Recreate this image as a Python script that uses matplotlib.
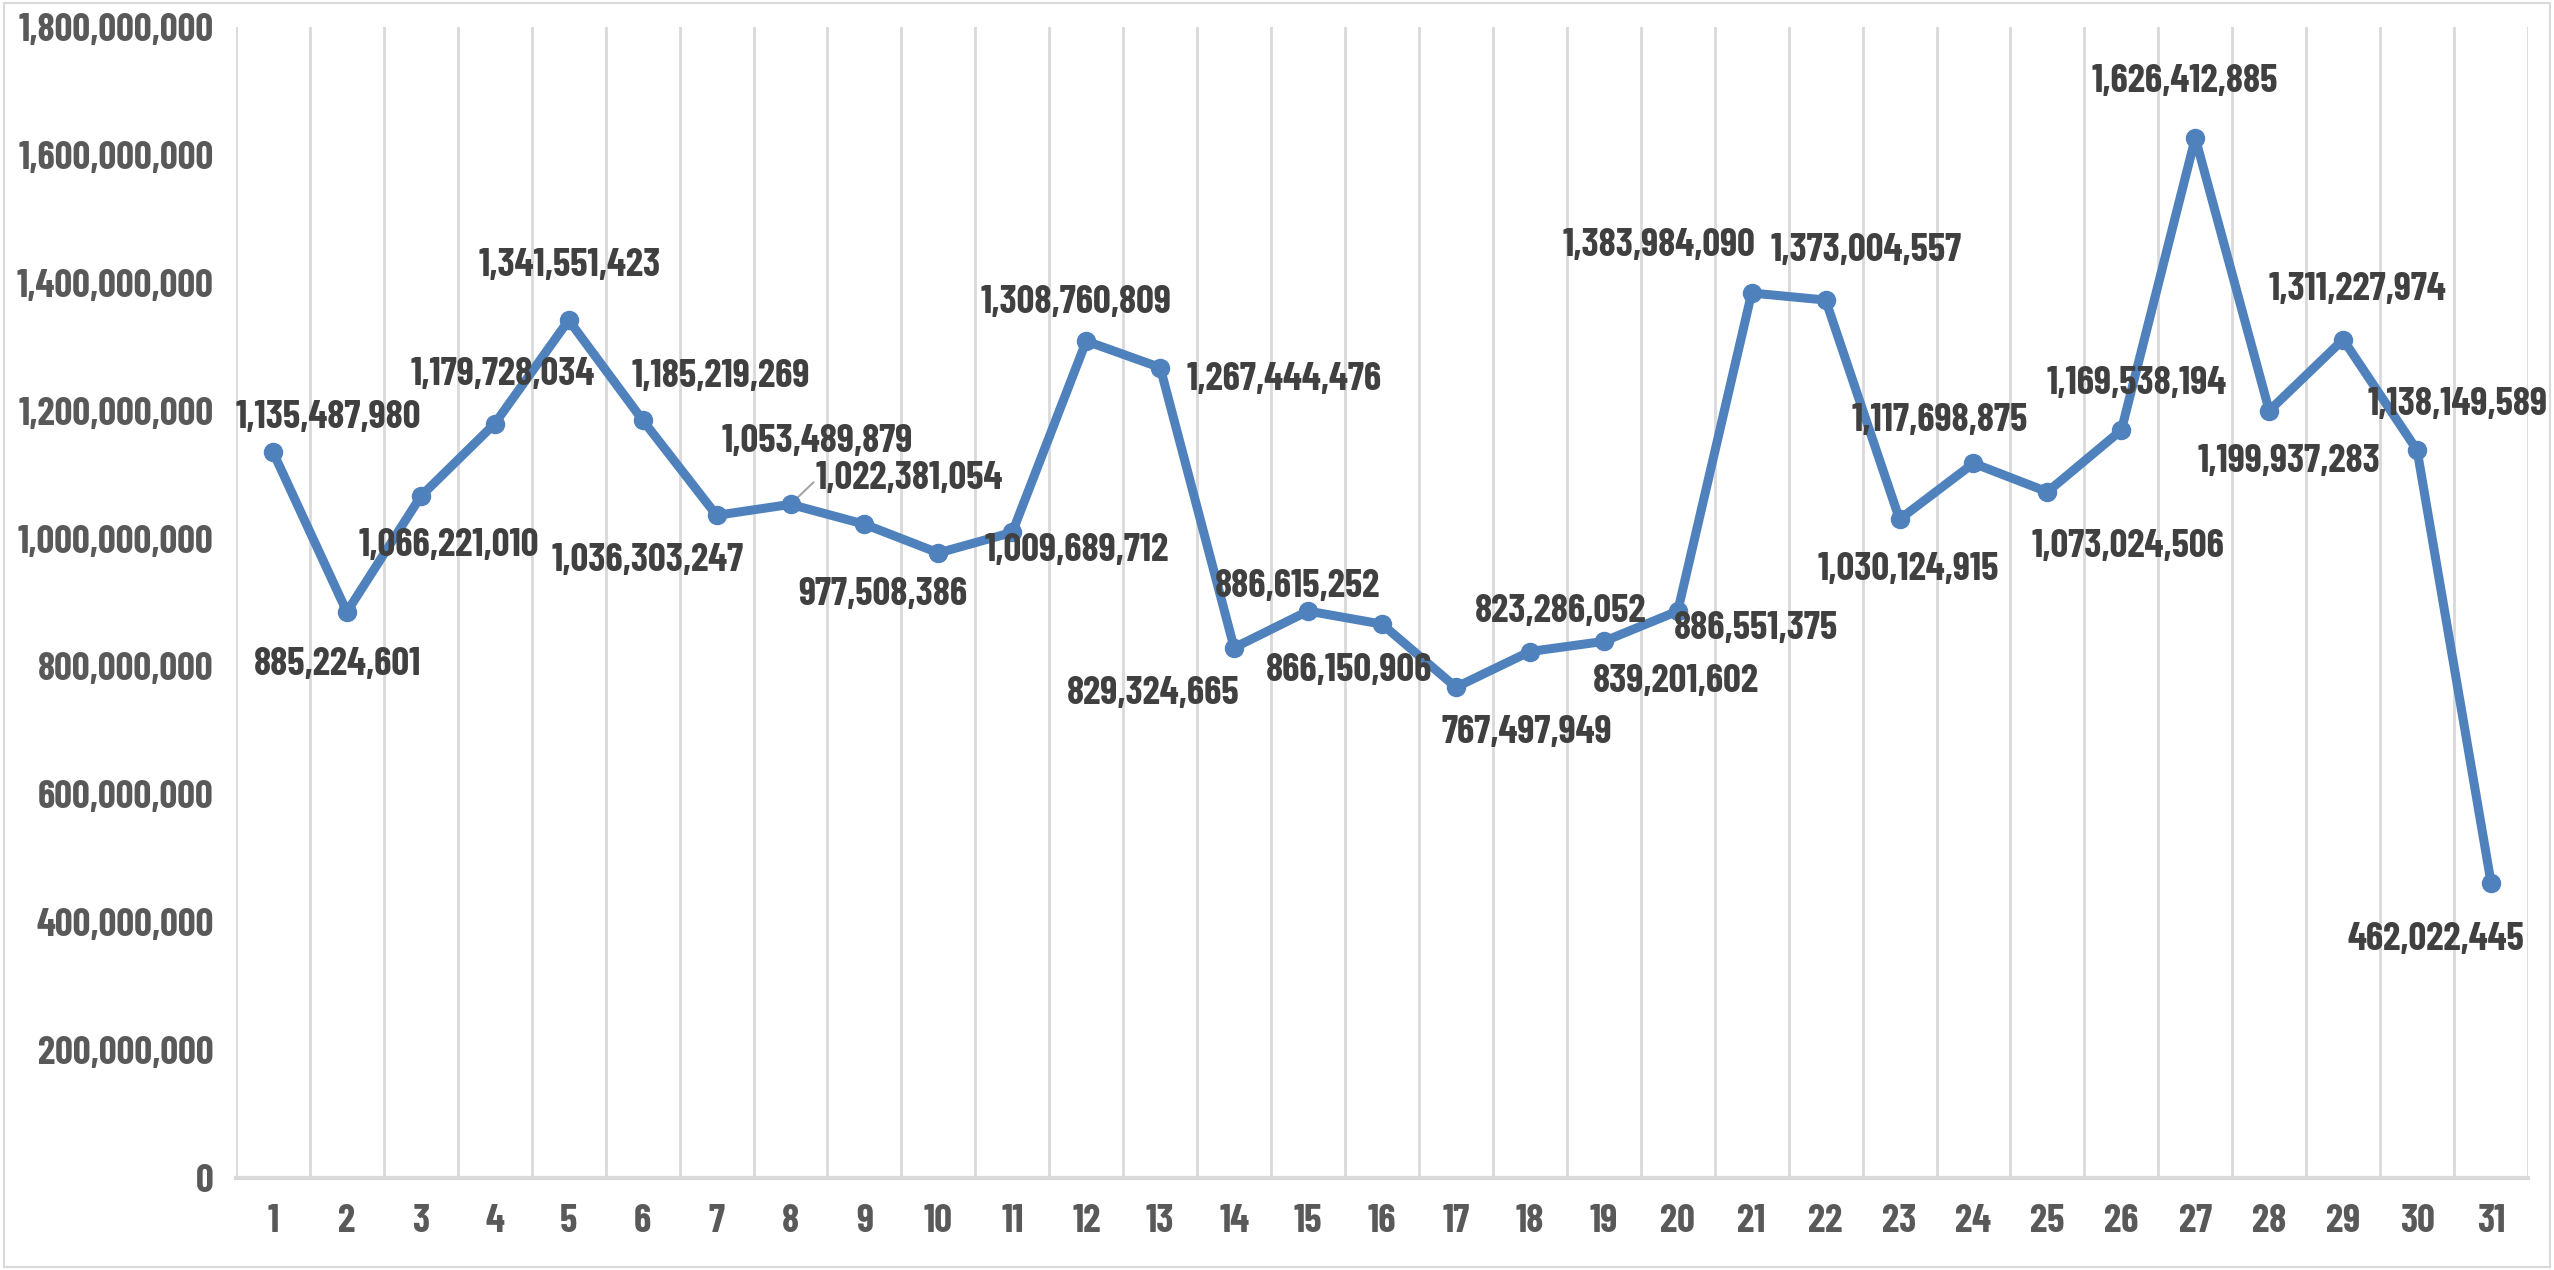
import matplotlib
matplotlib.use("Agg")
import matplotlib.pyplot as plt
from matplotlib import font_manager as fm
from matplotlib.ticker import FuncFormatter, MultipleLocator
from matplotlib.patches import Rectangle

days = list(range(1, 32))
values = [1135487980, 885224601, 1066221010, 1179728034, 1341551423, 1185219269,
          1036303247, 1053489879, 1022381054, 977508386, 1009689712, 1308760809,
          1267444476, 829324665, 886615252, 866150906, 767497949, 823286052,
          839201602, 886551375, 1383984090, 1373004557, 1030124915, 1117698875,
          1073024506, 1169538194, 1626412885, 1199937283, 1311227974, 1138149589,
          462022445]

# label offsets in pixels (dx, dy), roughly where excel put them
label_offsets = [(55, 34), (-9, -53), (28, -49), (8, 49), (1, 55), (78, 44),
                 (-69, -45), (27, 63), (45, 46), (-56, -42), (64, -18), (-10, 39),
                 (124, -12), (-81, -46), (-11, 25), (-33, -46), (71, -45), (31, 40),
                 (72, -40), (78, -17), (-93, 48), (41, 50), (9, -50), (-34, 43),
                 (81, -55), (15, 47), (-11, 56), (20, -51), (14, 50), (40, 46),
                 (-55, -57)]

# pick a narrow bold font, calibri-ish
installed = set(f.name for f in fm.fontManager.ttflist)
font_name = 'DejaVu Sans'
for cand in ['Barlow Condensed', 'Liberation Sans Narrow', 'Saira Condensed',
             'Barlow Semi Condensed', 'Cabin Condensed']:
    if cand in installed:
        font_name = cand
        break
plt.rcParams['font.family'] = [font_name, 'DejaVu Sans']
plt.rcParams['font.weight'] = 'bold'

line_col = '#4F81BD'
grid_col = '#D9D9D9'

fig = plt.figure(figsize=(25.54, 12.70), dpi=100)

# size the font so "1,800,000,000" is about as wide as in the reference
probe = fig.text(0, 0, "1,800,000,000", fontsize=20, fontweight='bold')
w = probe.get_window_extent(renderer=fig.canvas.get_renderer()).width
probe.remove()
fsize = min(20 * 196 / w, 32)

ax = fig.add_axes([236/2554, 92/1270, (2528-236)/2554, (1178-27)/1270])

ax.plot(days, values, color=line_col, linewidth=6.5, marker='o', markersize=13,
        markerfacecolor=line_col, markeredgecolor=line_col, zorder=3)

for i, (d, v) in enumerate(zip(days, values)):
    dx, dy = label_offsets[i]
    ax.annotate(f"{v:,}", (d, v), xytext=(dx, dy), textcoords='offset pixels',
                ha='center', va='center', fontsize=fsize, fontweight='bold',
                color='#404040', zorder=4)

# leader line for day 8 label
ax.annotate("", (days[7], values[7]), xytext=(25, 24), textcoords='offset pixels',
            arrowprops=dict(arrowstyle='-', color='#A6A6A6', lw=1.5), zorder=2)

ax.set_xlim(0.5, 31.5)
ax.set_ylim(0, 1800000000)
ax.yaxis.set_major_locator(MultipleLocator(200000000))
ax.yaxis.set_major_formatter(FuncFormatter(lambda x, p: f"{int(x):,}"))
ax.set_xticks(days)
ax.set_xticks([d + 0.5 for d in range(0, 32)], minor=True)
ax.grid(True, which='minor', axis='x', color=grid_col, linewidth=2)
ax.tick_params(which='both', length=0)
ax.tick_params(axis='y', pad=16, labelsize=fsize, labelcolor='#595959')
ax.tick_params(axis='x', pad=19, labelsize=fsize, labelcolor='#595959')
for lab in ax.get_xticklabels() + ax.get_yticklabels():
    lab.set_fontweight('bold')

for s in ['top', 'right', 'left']:
    ax.spines[s].set_visible(False)
ax.spines['bottom'].set_color(grid_col)
ax.spines['bottom'].set_linewidth(3)

fig.patches.append(Rectangle((0.0015, 0.002), 0.997, 0.996, transform=fig.transFigure,
                             fill=False, edgecolor=grid_col, linewidth=1.5))

fig.savefig("out.png", dpi=100)
